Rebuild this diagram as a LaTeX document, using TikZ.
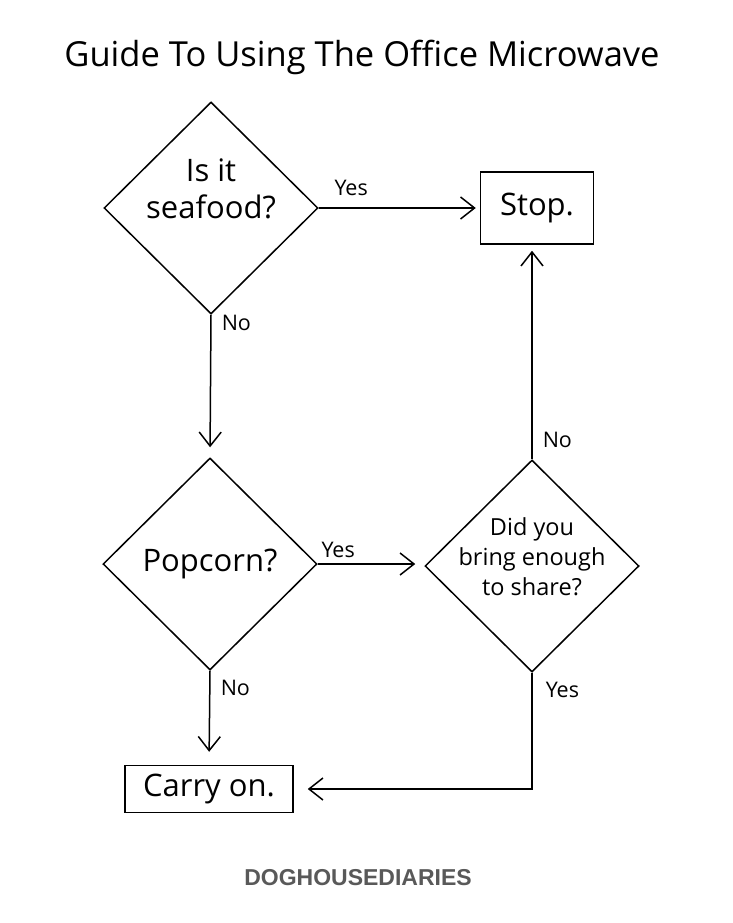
\documentclass[tikz,border=0pt]{standalone}
\usepackage{fontspec}
\setmainfont{Open Sans}
\newfontfamily\firmafont{Liberation Sans}
\usetikzlibrary{shapes.geometric,arrows.meta}

\tikzset{
    decision/.style={diamond, draw, line width=1.5pt, inner sep=0pt,
        minimum width=214pt, minimum height=212pt, align=center,
        font=\fontsize{31}{37}\selectfont},
    caja/.style={rectangle, draw, line width=1.5pt, inner sep=0pt,
        font=\fontsize{31}{36}\selectfont},
    flecha/.style={line width=1.5pt,
        -{Straight Barb[length=14pt,width=22pt,line width=1.5pt]}},
    etiqueta/.style={inner sep=0pt, font=\fontsize{21.5}{24}\selectfont},
}

% texto sin medida, para que el rombo no crezca
\newcommand{\textorombo}[2]{\raisebox{#1}[0pt][0pt]{\makebox[0pt]{\begin{tabular}{@{}c@{}}#2\end{tabular}}}}

\begin{document}
\begin{tikzpicture}[x=1pt, y=-1pt]
        % Paso 1: Fija el marco del dibujo
        \fill[white] (0,0) rectangle (733,923);
        \useasboundingbox (0,0) rectangle (733,923);

        % Paso 2: Titulo y firma
        \node[anchor=base, font=\fontsize{34.5}{40}\selectfont] (titulo) at (362,67)
            {Guide To Using The Office Microwave};
        \node[anchor=base, text=black!65, font=\firmafont\bfseries\fontsize{23}{26}\selectfont]
            (firma) at (358,885) {DOGHOUSEDIARIES};

        % Paso 3: Define las preguntas (rombos)
        \node[decision] (marisco) at (211,208) {\textorombo{9pt}{Is it\\seafood?}};
        \node[decision] (palomitas) at (210,564) {Popcorn?};
        \node[decision, font=\fontsize{23.5}{30}\selectfont] (compartir) at (532,566)
            {\textorombo{0pt}{Did you\\bring enough\\to share?}};

        % Paso 4: Define las respuestas (cajas)
        \node[caja, minimum width=113pt, minimum height=72pt] (alto) at (537,208) {Stop.};
        \node[caja, minimum width=168pt, minimum height=47pt] (seguir) at (209,789) {Carry on.};

        % Paso 5: Dibuja las flechas con sus etiquetas
        \draw[flecha, shorten >=4pt] (marisco.east) -- (alto.west)
            node[etiqueta, pos=0, anchor=base west, xshift=15pt, yshift=13pt] {Yes};
        \draw[flecha, shorten >=10pt] (marisco.south) -- (palomitas.north)
            node[etiqueta, pos=0, anchor=base west, xshift=10pt, yshift=-16pt] {No};
        \draw[flecha, shorten >=9pt] (palomitas.east) -- (palomitas.east -| compartir.west)
            node[etiqueta, pos=0, anchor=base west, xshift=3pt, yshift=7pt] {Yes};
        \draw[flecha, shorten >=13pt] (palomitas.south) -- (seguir.north)
            node[etiqueta, pos=0, anchor=base west, xshift=10pt, yshift=-25pt] {No};
        \draw[flecha, shorten >=6pt] (compartir.north) -- (compartir.north |- alto.south)
            node[etiqueta, pos=0, anchor=base west, xshift=10pt, yshift=12pt] {No};
        \draw[flecha, shorten >=14pt] (compartir.south) |- (seguir.east)
            node[etiqueta, pos=0, anchor=base west, xshift=13pt, yshift=-25pt] {Yes};
\end{tikzpicture}
\end{document}
